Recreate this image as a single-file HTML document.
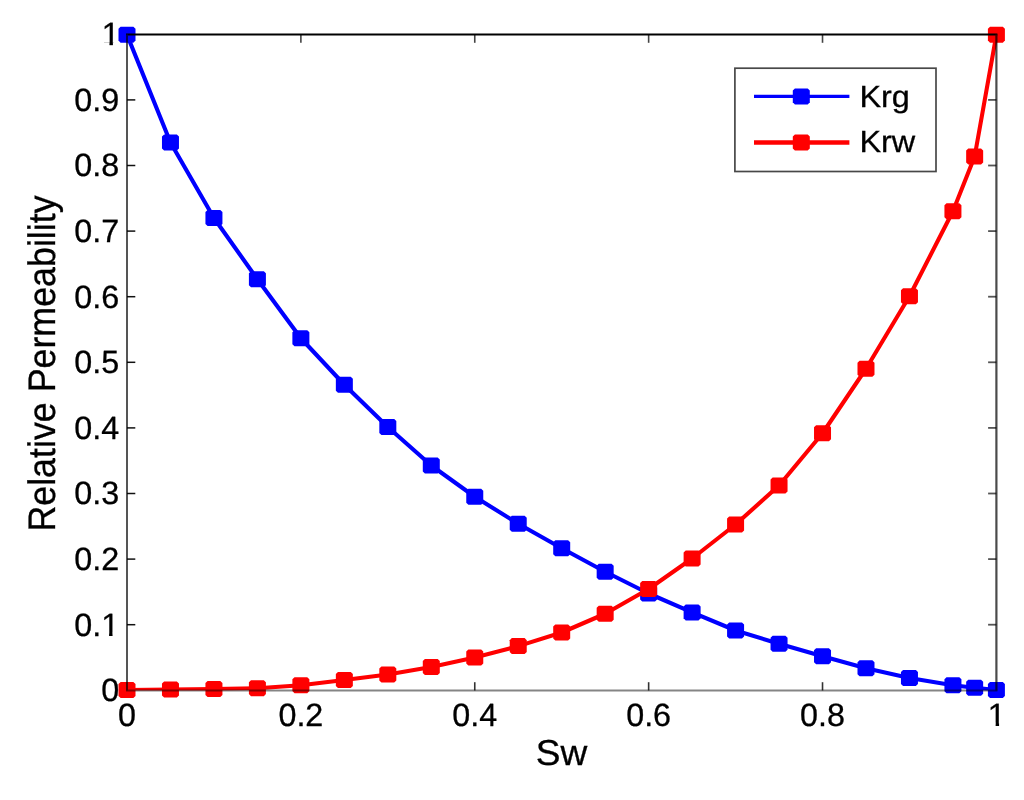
<!DOCTYPE html>
<html lang="en"><head><meta charset="utf-8"><title>Relative Permeability</title>
<style>
html,body{margin:0;padding:0;background:#fff;}
body{width:1024px;height:800px;overflow:hidden;}
svg{display:block;}
text{font-family:"Liberation Sans",sans-serif;fill:#000;stroke:#000;stroke-width:0.3px;text-rendering:geometricPrecision;}
.tk{font-size:32.3px;}
.lb{font-size:35.8px;}
.lg{font-size:30.6px;}
</style></head><body>
<svg width="1024" height="800" viewBox="0 0 1024 800">
<rect x="0" y="0" width="1024" height="800" fill="#fff"/>
<defs><clipPath id="box"><rect x="126.6" y="34" width="870.2" height="656.4"/></clipPath></defs>
<g id="tickmarks"><line x1="300.88" y1="690.5" x2="300.88" y2="682.2" stroke="#333" stroke-width="1.6"/>
<line x1="300.88" y1="34.5" x2="300.88" y2="42.8" stroke="#444" stroke-width="1.6"/>
<line x1="474.76" y1="690.5" x2="474.76" y2="682.2" stroke="#333" stroke-width="1.6"/>
<line x1="474.76" y1="34.5" x2="474.76" y2="42.8" stroke="#444" stroke-width="1.6"/>
<line x1="648.64" y1="690.5" x2="648.64" y2="682.2" stroke="#333" stroke-width="1.6"/>
<line x1="648.64" y1="34.5" x2="648.64" y2="42.8" stroke="#444" stroke-width="1.6"/>
<line x1="822.52" y1="690.5" x2="822.52" y2="682.2" stroke="#333" stroke-width="1.6"/>
<line x1="822.52" y1="34.5" x2="822.52" y2="42.8" stroke="#444" stroke-width="1.6"/>
<line x1="127.0" y1="624.7" x2="135.3" y2="624.7" stroke="#111" stroke-width="1.5"/>
<line x1="996.4" y1="624.7" x2="988.1" y2="624.7" stroke="#555" stroke-width="1.8"/>
<line x1="127.0" y1="559.1" x2="135.3" y2="559.1" stroke="#111" stroke-width="1.5"/>
<line x1="996.4" y1="559.1" x2="988.1" y2="559.1" stroke="#555" stroke-width="1.8"/>
<line x1="127.0" y1="493.5" x2="135.3" y2="493.5" stroke="#111" stroke-width="1.5"/>
<line x1="996.4" y1="493.5" x2="988.1" y2="493.5" stroke="#555" stroke-width="1.8"/>
<line x1="127.0" y1="427.9" x2="135.3" y2="427.9" stroke="#111" stroke-width="1.5"/>
<line x1="996.4" y1="427.9" x2="988.1" y2="427.9" stroke="#555" stroke-width="1.8"/>
<line x1="127.0" y1="362.3" x2="135.3" y2="362.3" stroke="#111" stroke-width="1.5"/>
<line x1="996.4" y1="362.3" x2="988.1" y2="362.3" stroke="#555" stroke-width="1.8"/>
<line x1="127.0" y1="296.7" x2="135.3" y2="296.7" stroke="#111" stroke-width="1.5"/>
<line x1="996.4" y1="296.7" x2="988.1" y2="296.7" stroke="#555" stroke-width="1.8"/>
<line x1="127.0" y1="231.1" x2="135.3" y2="231.1" stroke="#111" stroke-width="1.5"/>
<line x1="996.4" y1="231.1" x2="988.1" y2="231.1" stroke="#555" stroke-width="1.8"/>
<line x1="127.0" y1="165.5" x2="135.3" y2="165.5" stroke="#111" stroke-width="1.5"/>
<line x1="996.4" y1="165.5" x2="988.1" y2="165.5" stroke="#555" stroke-width="1.8"/>
<line x1="127.0" y1="99.9" x2="135.3" y2="99.9" stroke="#111" stroke-width="1.5"/>
<line x1="996.4" y1="99.9" x2="988.1" y2="99.9" stroke="#555" stroke-width="1.8"/></g>
<g id="krg"><polyline clip-path="url(#box)" points="127,34.7 170.47,142.5 213.94,218 257.41,279.25 300.88,338.25 344.35,384.75 387.82,427 431.29,465.5 474.76,496.75 518.23,523.75 561.7,548.25 605.17,571.75 648.64,593.5 692.11,612.4 735.58,630.5 779.05,643.75 822.52,656.25 865.99,668.25 909.46,678 952.93,685.25 974.66,687.75 996.4,690" fill="none" stroke="#0000ff" stroke-width="4.1" stroke-linejoin="round"/>
<polygon points="120.6,26.7 133.4,26.7 135.5,28.8 135.5,40.6 133.4,42.7 120.6,42.7 118.5,40.6 118.5,28.8" fill="#0000ff"/>
<polygon points="164.07,134.5 176.87,134.5 178.97,136.6 178.97,148.4 176.87,150.5 164.07,150.5 161.97,148.4 161.97,136.6" fill="#0000ff"/>
<polygon points="207.54,210 220.34,210 222.44,212.1 222.44,223.9 220.34,226 207.54,226 205.44,223.9 205.44,212.1" fill="#0000ff"/>
<polygon points="251.01,271.25 263.81,271.25 265.91,273.35 265.91,285.15 263.81,287.25 251.01,287.25 248.91,285.15 248.91,273.35" fill="#0000ff"/>
<polygon points="294.48,330.25 307.28,330.25 309.38,332.35 309.38,344.15 307.28,346.25 294.48,346.25 292.38,344.15 292.38,332.35" fill="#0000ff"/>
<polygon points="337.95,376.75 350.75,376.75 352.85,378.85 352.85,390.65 350.75,392.75 337.95,392.75 335.85,390.65 335.85,378.85" fill="#0000ff"/>
<polygon points="381.42,419 394.22,419 396.32,421.1 396.32,432.9 394.22,435 381.42,435 379.32,432.9 379.32,421.1" fill="#0000ff"/>
<polygon points="424.89,457.5 437.69,457.5 439.79,459.6 439.79,471.4 437.69,473.5 424.89,473.5 422.79,471.4 422.79,459.6" fill="#0000ff"/>
<polygon points="468.36,488.75 481.16,488.75 483.26,490.85 483.26,502.65 481.16,504.75 468.36,504.75 466.26,502.65 466.26,490.85" fill="#0000ff"/>
<polygon points="511.83,515.75 524.63,515.75 526.73,517.85 526.73,529.65 524.63,531.75 511.83,531.75 509.73,529.65 509.73,517.85" fill="#0000ff"/>
<polygon points="555.3,540.25 568.1,540.25 570.2,542.35 570.2,554.15 568.1,556.25 555.3,556.25 553.2,554.15 553.2,542.35" fill="#0000ff"/>
<polygon points="598.77,563.75 611.57,563.75 613.67,565.85 613.67,577.65 611.57,579.75 598.77,579.75 596.67,577.65 596.67,565.85" fill="#0000ff"/>
<polygon points="642.24,585.5 655.04,585.5 657.14,587.6 657.14,599.4 655.04,601.5 642.24,601.5 640.14,599.4 640.14,587.6" fill="#0000ff"/>
<polygon points="685.71,604.4 698.51,604.4 700.61,606.5 700.61,618.3 698.51,620.4 685.71,620.4 683.61,618.3 683.61,606.5" fill="#0000ff"/>
<polygon points="729.18,622.5 741.98,622.5 744.08,624.6 744.08,636.4 741.98,638.5 729.18,638.5 727.08,636.4 727.08,624.6" fill="#0000ff"/>
<polygon points="772.65,635.75 785.45,635.75 787.55,637.85 787.55,649.65 785.45,651.75 772.65,651.75 770.55,649.65 770.55,637.85" fill="#0000ff"/>
<polygon points="816.12,648.25 828.92,648.25 831.02,650.35 831.02,662.15 828.92,664.25 816.12,664.25 814.02,662.15 814.02,650.35" fill="#0000ff"/>
<polygon points="859.59,660.25 872.39,660.25 874.49,662.35 874.49,674.15 872.39,676.25 859.59,676.25 857.49,674.15 857.49,662.35" fill="#0000ff"/>
<polygon points="903.06,670 915.86,670 917.96,672.1 917.96,683.9 915.86,686 903.06,686 900.96,683.9 900.96,672.1" fill="#0000ff"/>
<polygon points="946.53,677.25 959.33,677.25 961.43,679.35 961.43,691.15 959.33,693.25 946.53,693.25 944.43,691.15 944.43,679.35" fill="#0000ff"/>
<polygon points="968.26,679.75 981.06,679.75 983.16,681.85 983.16,693.65 981.06,695.75 968.26,695.75 966.16,693.65 966.16,681.85" fill="#0000ff"/>
<polygon points="990,682 1002.8,682 1004.9,684.1 1004.9,695.9 1002.8,698 990,698 987.9,695.9 987.9,684.1" fill="#0000ff"/></g>
<g id="krw"><polyline clip-path="url(#box)" points="127,690 170.47,689.5 213.94,689 257.41,688.2 300.88,685.2 344.35,680 387.82,674.5 431.29,667 474.76,657.5 518.23,646.1 561.7,632.5 605.17,613.75 648.64,589 692.11,558.5 735.58,524.5 779.05,485.5 822.52,433.25 865.99,368.75 909.46,296.25 952.93,211.25 974.66,156.5 996.4,34.7" fill="none" stroke="#ff0000" stroke-width="4.1" stroke-linejoin="round"/>
<polygon points="120.6,682 133.4,682 135.5,684.1 135.5,695.9 133.4,698 120.6,698 118.5,695.9 118.5,684.1" fill="#ff0000"/>
<polygon points="164.07,681.5 176.87,681.5 178.97,683.6 178.97,695.4 176.87,697.5 164.07,697.5 161.97,695.4 161.97,683.6" fill="#ff0000"/>
<polygon points="207.54,681 220.34,681 222.44,683.1 222.44,694.9 220.34,697 207.54,697 205.44,694.9 205.44,683.1" fill="#ff0000"/>
<polygon points="251.01,680.2 263.81,680.2 265.91,682.3 265.91,694.1 263.81,696.2 251.01,696.2 248.91,694.1 248.91,682.3" fill="#ff0000"/>
<polygon points="294.48,677.2 307.28,677.2 309.38,679.3 309.38,691.1 307.28,693.2 294.48,693.2 292.38,691.1 292.38,679.3" fill="#ff0000"/>
<polygon points="337.95,672 350.75,672 352.85,674.1 352.85,685.9 350.75,688 337.95,688 335.85,685.9 335.85,674.1" fill="#ff0000"/>
<polygon points="381.42,666.5 394.22,666.5 396.32,668.6 396.32,680.4 394.22,682.5 381.42,682.5 379.32,680.4 379.32,668.6" fill="#ff0000"/>
<polygon points="424.89,659 437.69,659 439.79,661.1 439.79,672.9 437.69,675 424.89,675 422.79,672.9 422.79,661.1" fill="#ff0000"/>
<polygon points="468.36,649.5 481.16,649.5 483.26,651.6 483.26,663.4 481.16,665.5 468.36,665.5 466.26,663.4 466.26,651.6" fill="#ff0000"/>
<polygon points="511.83,638.1 524.63,638.1 526.73,640.2 526.73,652 524.63,654.1 511.83,654.1 509.73,652 509.73,640.2" fill="#ff0000"/>
<polygon points="555.3,624.5 568.1,624.5 570.2,626.6 570.2,638.4 568.1,640.5 555.3,640.5 553.2,638.4 553.2,626.6" fill="#ff0000"/>
<polygon points="598.77,605.75 611.57,605.75 613.67,607.85 613.67,619.65 611.57,621.75 598.77,621.75 596.67,619.65 596.67,607.85" fill="#ff0000"/>
<polygon points="642.24,581 655.04,581 657.14,583.1 657.14,594.9 655.04,597 642.24,597 640.14,594.9 640.14,583.1" fill="#ff0000"/>
<polygon points="685.71,550.5 698.51,550.5 700.61,552.6 700.61,564.4 698.51,566.5 685.71,566.5 683.61,564.4 683.61,552.6" fill="#ff0000"/>
<polygon points="729.18,516.5 741.98,516.5 744.08,518.6 744.08,530.4 741.98,532.5 729.18,532.5 727.08,530.4 727.08,518.6" fill="#ff0000"/>
<polygon points="772.65,477.5 785.45,477.5 787.55,479.6 787.55,491.4 785.45,493.5 772.65,493.5 770.55,491.4 770.55,479.6" fill="#ff0000"/>
<polygon points="816.12,425.25 828.92,425.25 831.02,427.35 831.02,439.15 828.92,441.25 816.12,441.25 814.02,439.15 814.02,427.35" fill="#ff0000"/>
<polygon points="859.59,360.75 872.39,360.75 874.49,362.85 874.49,374.65 872.39,376.75 859.59,376.75 857.49,374.65 857.49,362.85" fill="#ff0000"/>
<polygon points="903.06,288.25 915.86,288.25 917.96,290.35 917.96,302.15 915.86,304.25 903.06,304.25 900.96,302.15 900.96,290.35" fill="#ff0000"/>
<polygon points="946.53,203.25 959.33,203.25 961.43,205.35 961.43,217.15 959.33,219.25 946.53,219.25 944.43,217.15 944.43,205.35" fill="#ff0000"/>
<polygon points="968.26,148.5 981.06,148.5 983.16,150.6 983.16,162.4 981.06,164.5 968.26,164.5 966.16,162.4 966.16,150.6" fill="#ff0000"/>
<polygon points="990,26.7 1002.8,26.7 1004.9,28.8 1004.9,40.6 1002.8,42.7 990,42.7 987.9,40.6 987.9,28.8" fill="#ff0000"/></g>
<g id="axes" style="mix-blend-mode:multiply"><line x1="126.0" y1="34.5" x2="997.4" y2="34.5" stroke="#000" stroke-width="1.8"/>
<line x1="126.0" y1="690.5" x2="997.4" y2="690.5" stroke="#858585" stroke-width="2"/>
<line x1="127.0" y1="34.5" x2="127.0" y2="690.5" stroke="#555" stroke-width="2"/>
<line x1="996.4" y1="34.5" x2="996.4" y2="690.5" stroke="#4a4a4a" stroke-width="2.2"/></g>
<g id="ticks"><text class="tk" text-anchor="middle" x="127" y="725.6">0</text>
<text class="tk" text-anchor="middle" x="300.88" y="725.6">0.2</text>
<text class="tk" text-anchor="middle" x="474.76" y="725.6">0.4</text>
<text class="tk" text-anchor="middle" x="648.64" y="725.6">0.6</text>
<text class="tk" text-anchor="middle" x="822.52" y="725.6">0.8</text>
<clipPath id="c1x"><rect x="986.82" y="695.6" width="13" height="27.1"/><rect x="995.67" y="721.6" width="3.4" height="4.5"/></clipPath><g clip-path="url(#c1x)"><text class="tk" x="987.82" y="725.6">1</text></g>
<text class="tk" text-anchor="end" x="119.2" y="701.2">0</text>
<clipPath id="c01y"><rect x="72.3" y="605.6" width="28.44" height="36"/><rect x="100.24" y="605.6" width="13" height="27.1"/><rect x="109.09" y="631.6" width="3.4" height="4.5"/></clipPath><g clip-path="url(#c01y)"><text class="tk" x="74.3" y="635.6">0.1</text></g>
<text class="tk" text-anchor="end" x="119.2" y="570">0.2</text>
<text class="tk" text-anchor="end" x="119.2" y="504.4">0.3</text>
<text class="tk" text-anchor="end" x="119.2" y="438.8">0.4</text>
<text class="tk" text-anchor="end" x="119.2" y="373.2">0.5</text>
<text class="tk" text-anchor="end" x="119.2" y="307.6">0.6</text>
<text class="tk" text-anchor="end" x="119.2" y="242">0.7</text>
<text class="tk" text-anchor="end" x="119.2" y="176.4">0.8</text>
<text class="tk" text-anchor="end" x="119.2" y="110.8">0.9</text>
<clipPath id="c1y"><rect x="100.64" y="15.2" width="13" height="27.1"/><rect x="109.49" y="41.2" width="3.4" height="4.5"/></clipPath><g clip-path="url(#c1y)"><text class="tk" x="101.64" y="45.2">1</text></g></g>
<text class="lb" text-anchor="middle" style="font-size:36px" transform="translate(561.4,765) scale(1.03,1)">Sw</text>
<text class="lb" text-anchor="middle" transform="translate(55.2,363.5) scale(1.07,1) rotate(-90)">Relative Permeability</text>
<g id="legend"><rect x="734.9" y="68.2" width="201.1" height="103.3" fill="#fff" stroke="#484848" stroke-width="1.7"/>
<line x1="754" y1="96.4" x2="849.4" y2="96.4" stroke="#0000ff" stroke-width="3.1"/>
<polygon points="794.9,88.4 807.7,88.4 809.8,90.5 809.8,102.3 807.7,104.4 794.9,104.4 792.8,102.3 792.8,90.5" fill="#0000ff"/>
<text class="lg" transform="translate(859.4,107) scale(1.06,1)">Krg</text>
<line x1="754" y1="142.5" x2="849.4" y2="142.5" stroke="#ff0000" stroke-width="4.4"/>
<polygon points="794.9,134.5 807.7,134.5 809.8,136.6 809.8,148.4 807.7,150.5 794.9,150.5 792.8,148.4 792.8,136.6" fill="#ff0000"/>
<text class="lg" transform="translate(859.4,152) scale(1.06,1)">Krw</text></g>
</svg></body></html>
